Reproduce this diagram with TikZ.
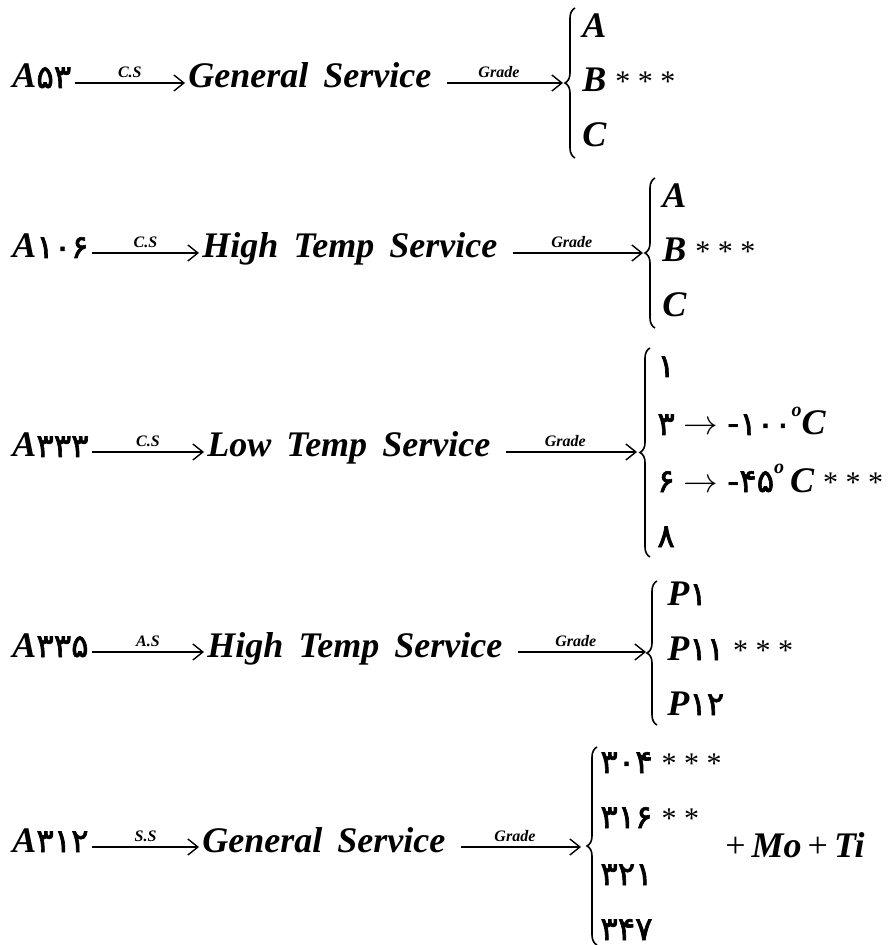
\documentclass[tikz,border=0pt]{standalone}
\usepackage{fontspec}
\setmainfont{Liberation Serif}
\newfontfamily\fanum[Script=Arabic,Scale=0.9,FakeBold=2]{DejaVu Sans}
\usetikzlibrary{arrows.meta,decorations.pathreplacing}
\newcommand{\pd}[1]{{\fanum\mdseries\upshape #1}}
\newcommand{\wsp}{\hspace{0.42em}}
\newcommand{\stars}[1]{{\fontsize{15}{15}\selectfont\mdseries\upshape #1}}
\newcommand{\dg}{\raisebox{1.1ex}{\fontsize{10}{10}\selectfont o}}

\begin{document}
\begin{tikzpicture}[x=0.5pt, y=-0.5pt, >={Straight Barb[length=5pt,width=8pt]},
  every node/.style={font=\fontsize{18}{20}\selectfont\bfseries\itshape, inner sep=0pt},
  term/.style={anchor=west, text height=0.7em, text depth=0.2em, inner xsep=1.5pt},
  item/.style={anchor=base west},
  lbl/.style={above, inner sep=2.5pt, font=\fontsize{8}{8}\selectfont\bfseries\itshape},
  link/.style={->, line width=0.7pt},
  grd/.style={link, shorten <=6pt},
  brc/.style={decorate, decoration={brace, amplitude=5pt}, line width=0.8pt}]
\useasboundingbox (0,0) rectangle (888,945);

% A53
\node[term] (a53) at (9,83) {A\pd{۵۳}};
\node[term] (gs1) at (185,83) {General\wsp Service};
\coordinate (t1) at (563,83);
\draw[link] (a53) -- node[lbl] {C.S} (gs1);
\draw[grd] (gs1) -- node[lbl] {Grade} (t1);
\draw[brc] (575,158) -- (575,8);
\node[item] (g1a) at (582,38) {A};
\node[item] (g1b) at (582,92) {B \stars{* * *}};
\node[item] (g1c) at (582,147) {C};

% A106
\node[term] (a106) at (9,253) {A\pd{۱۰۶}};
\node[term] (ht1) at (199,253) {High\wsp Temp\wsp Service};
\coordinate (t2) at (643,253);
\draw[link] (a106) -- node[lbl] {C.S} (ht1);
\draw[grd] (ht1) -- node[lbl] {Grade} (t2);
\draw[brc] (655,328) -- (655,178);
\node[item] (g2a) at (662,208) {A};
\node[item] (g2b) at (662,262) {B \stars{* * *}};
\node[item] (g2c) at (662,317) {C};

% A333
\node[term] (a333) at (9,452) {A\pd{۳۳۳}};
\node[term] (lt) at (204,452) {Low\wsp Temp\wsp Service};
\coordinate (t3) at (637,452);
\draw[link] (a333) -- node[lbl] {C.S} (lt);
\draw[grd] (lt) -- node[lbl] {Grade} (t3);
\draw[brc] (650,557) -- (650,348);
\node[item] (g3a) at (657,377) {\pd{۱}};
\node[item] (g3b) at (657,435) {\pd{۳} $\rightarrow$ {\upshape -}\pd{۱۰۰}\dg C};
\node[item] (g3c) at (657,492) {\pd{۶} $\rightarrow$ {\upshape -}\pd{۴۵}\dg\,C \stars{* * *}};
\node[item] (g3d) at (657,547) {\pd{۸}};

% A335
\node[term] (a335) at (9,652) {A\pd{۳۳۵}};
\node[term] (ht2) at (204,652) {High\wsp Temp\wsp Service};
\coordinate (t4) at (646,652);
\draw[link] (a335) -- node[lbl] {A.S} (ht2);
\draw[grd] (ht2) -- node[lbl] {Grade} (t4);
\draw[brc] (657,725) -- (657,581);
\node[item] (g4a) at (667,605) {P\pd{۱}};
\node[item] (g4b) at (667,660) {P\pd{۱۱} \stars{* * *}};
\node[item] (g4c) at (667,715) {P\pd{۱۲}};

% A312
\node[term] (a312) at (9,847) {A\pd{۳۱۲}};
\node[term] (gs2) at (199,847) {General\wsp Service};
\coordinate (t5) at (581,847);
\draw[link] (a312) -- node[lbl] {S.S} (gs2);
\draw[grd] (gs2) -- node[lbl] {Grade} (t5);
\draw[brc] (597,945) -- (597,747);
\node[item] (g5a) at (600,773) {\pd{۳۰۴} \stars{* * *}};
\node[item] (g5b) at (600,828) {\pd{۳۱۶} \stars{* *}};
\node[item] (g5c) at (600,885) {\pd{۳۲۱}};
\node[item] (g5d) at (600,940) {\pd{۳۴۷}};
\node[item] (moti) at (725,857) {{\upshape\mdseries +}\,Mo\,{\upshape\mdseries +}\,Ti};
\end{tikzpicture}
\end{document}
